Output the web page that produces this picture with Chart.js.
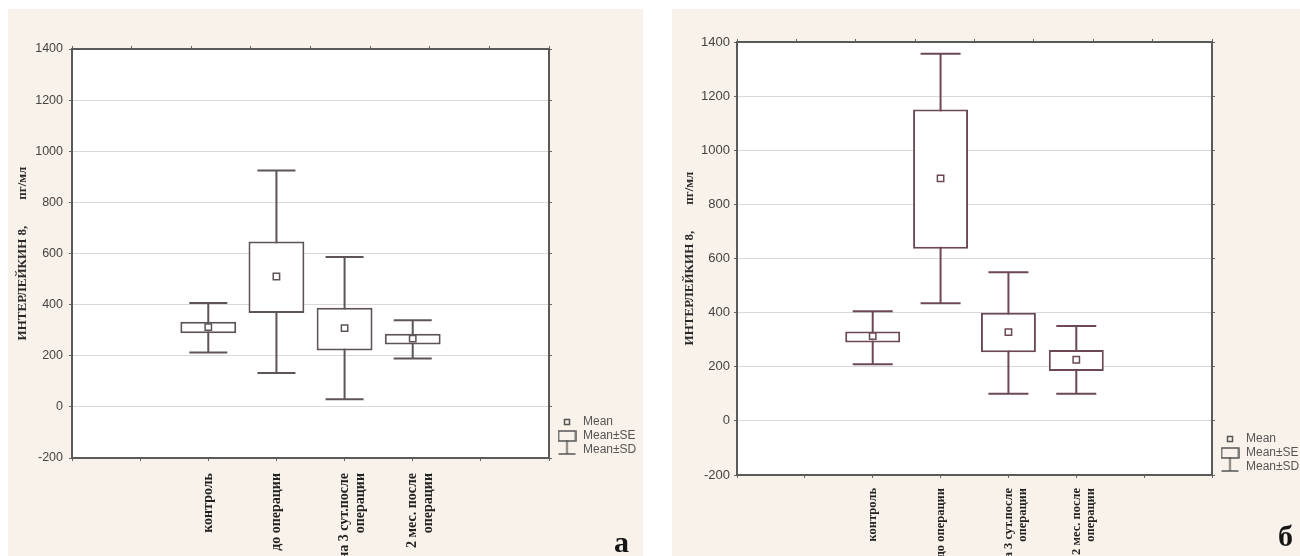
<!DOCTYPE html>
<html>
<head>
<meta charset="utf-8">
<script src="https://cdn.jsdelivr.net/npm/chart.js@4"></script>
<style>
  body { margin: 0; width: 1300px; height: 556px; background: #fff; position: relative; overflow: hidden; }
  .panel { position: absolute; top: 9px; height: 547px; background: #f9f2ea; }
  #panelA { left: 8px; width: 635px; }
  #panelB { left: 672px; width: 628px; }
  canvas { position: absolute; top: 0; }
  #chartA { left: 0; }
  #chartB { left: 650px; }
  .tag { position: absolute; font: bold 30px 'Liberation Serif', serif; line-height: 30px; color: #151515; }
</style>
</head>
<body>
<div class="panel" id="panelA"></div>
<div class="panel" id="panelB"></div>
<canvas id="chartA" width="650" height="556"></canvas>
<canvas id="chartB" width="650" height="556"></canvas>
<div class="tag" style="left:614px;top:527px">а</div>
<div class="tag" style="left:1278px;top:521px">б</div>
<script>
// categories sit on x = 2..5 of a 0..7 axis, as in the original Statistica plot
const categories = ['контроль', 'до операции', ['на 3 сут.после', 'операции'], ['2 мес. после', 'операции']];
const catX = [2, 3, 4, 5];
const yTitle = 'ИНТЕРЛЕЙКИН 8,        пг/мл';
const legendNames = ['Mean', 'Mean±SE', 'Mean±SD'];

// panel а
const meanA = [312, 510, 308, 267];
const seLowA = [288, 367, 221, 244];
const seHighA = [333, 647, 388, 286];
const sdLowA = [213, 133, 30, 189];
const sdHighA = [406, 925, 586, 339];

// panel б
const meanB = [313, 896, 328, 226];
const seLowB = [290, 636, 254, 184];
const seHighB = [330, 1151, 400, 262];
const sdLowB = [209, 435, 100, 100];
const sdHighB = [405, 1357, 549, 351];

// white plot area on the beige panel
const plotBg = {
  id: 'plotBg',
  beforeDraw(chart) {
    const a = chart.chartArea;
    const ctx = chart.ctx;
    ctx.save();
    ctx.fillStyle = '#fff';
    ctx.fillRect(a.left, a.top, a.right - a.left, a.bottom - a.top);
    ctx.restore();
  },
};

function makeIcon(kind, color) {
  const c = document.createElement('canvas');
  const ctx = c.getContext('2d');
  if (kind === 'mean') {
    c.width = 8; c.height = 8;
    ctx.strokeStyle = color; ctx.lineWidth = 1.5;
    ctx.strokeRect(1.5, 1.5, 5, 5);
  } else if (kind === 'se') {
    c.width = 19; c.height = 12;
    ctx.strokeStyle = color; ctx.lineWidth = 1.5;
    ctx.strokeRect(1, 1, 17, 10);
  } else {
    c.width = 19; c.height = 20;
    ctx.strokeStyle = color; ctx.lineWidth = 1.5;
    ctx.beginPath();
    ctx.moveTo(9.5, 0); ctx.lineTo(9.5, 14);
    ctx.moveTo(1, 14); ctx.lineTo(18, 14);
    ctx.stroke();
  }
  return c;
}

function buildChart(id, p) {
  const col = p.color;
  const pts = (arr) => catX.map((x, i) => ({x: x, y: arr[i]}));
  const ranges = (lo, hi) => catX.map((x, i) => ({x: x, y: [lo[i], hi[i]]}));
  const icons = [makeIcon('mean', '#555'), makeIcon('se', '#555'), makeIcon('sd', '#555')];
  const border = {display: true, color: '#5a5a5a', width: 2};

  return new Chart(document.getElementById(id), {
    type: 'bar',
    data: {
      datasets: [
        {
          label: 'Mean±SD',
          data: ranges(p.sdLow, p.sdHigh),
          backgroundColor: col,
          borderWidth: 0,
          grouped: false,
          categoryPercentage: 1,
          barPercentage: 0.1,
          maxBarThickness: 2,
          order: 4,
        },
        {
          label: 'Mean±SE',
          data: ranges(p.seLow, p.seHigh),
          backgroundColor: '#fff',
          borderColor: col,
          borderWidth: 2,
          borderSkipped: false,
          grouped: false,
          categoryPercentage: 1,
          barPercentage: p.boxPct,
          order: 3,
        },
        {
          type: 'scatter',
          label: 'caps',
          data: pts(p.sdHigh).concat(pts(p.sdLow)),
          pointStyle: 'line',
          pointRadius: p.capR,
          pointBorderColor: col,
          pointBorderWidth: 2,
          order: 2,
        },
        {
          type: 'scatter',
          label: 'Mean',
          data: pts(p.mean),
          pointStyle: 'rect',
          pointRadius: 4.5,
          pointBackgroundColor: '#fff',
          pointBorderColor: col,
          pointBorderWidth: 1.5,
          order: 1,
        },
      ],
    },
    options: {
      responsive: false,
      animation: false,
      events: [],
      layout: {padding: {top: p.top, right: p.padRight, bottom: 0, left: 0}},
      plugins: {
        tooltip: {enabled: false},
        legend: {
          position: 'right',
          align: 'end',
          fullSize: false,
          maxWidth: p.legendW,
          labels: {
            usePointStyle: true,
            pointStyleWidth: 20,
            padding: 2,
            color: '#555',
            font: {family: 'Liberation Sans', size: 12},
            generateLabels: () => legendNames.map((t, i) => ({
              text: t,
              pointStyle: icons[i],
              fillStyle: 'rgba(0,0,0,0)',
              strokeStyle: 'rgba(0,0,0,0)',
              lineWidth: 0,
              fontColor: '#555',
              hidden: false,
            })),
          },
        },
      },
      scales: {
        x: {
          type: 'linear',
          min: 0,
          max: 7,
          offset: false,
          border: border,
          grid: {drawOnChartArea: false, offset: false, tickLength: 3, color: '#666'},
          ticks: {
            stepSize: 1,
            autoSkip: false,
            minRotation: 90,
            maxRotation: 90,
            padding: p.xPad,
            color: '#222',
            font: {family: 'Liberation Serif', weight: 'bold', size: p.xFont, lineHeight: p.xLine},
            callback: function(value) {
              const i = catX.indexOf(value);
              return i < 0 ? '' : categories[i];
            },
          },
          afterFit: (s) => { s.height = p.xH; },
        },
        x2: {
          type: 'linear',
          position: 'top',
          min: 0,
          max: 7,
          border: border,
          grid: {drawOnChartArea: false, tickLength: 3, color: '#666'},
          ticks: {display: false, stepSize: 1},
          afterFit: (s) => { s.height = 0; },
        },
        y: {
          type: 'linear',
          min: -200,
          max: 1400,
          border: border,
          grid: {color: '#d9d9d9', tickColor: '#666', tickLength: 3},
          ticks: {
            stepSize: 200,
            padding: p.yPad,
            color: '#444',
            font: {family: 'Liberation Sans', size: p.yFont},
            callback: (v) => String(v),
          },
          title: {
            display: true,
            text: yTitle,
            color: '#2a2a2a',
            padding: {top: p.titlePad, bottom: 0},
            font: {family: 'Liberation Serif', weight: 'bold', size: 13},
          },
          afterFit: (s) => { s.width = p.yW; },
        },
        y2: {
          type: 'linear',
          position: 'right',
          min: -200,
          max: 1400,
          border: border,
          grid: {drawOnChartArea: false, tickLength: 3, color: '#666'},
          ticks: {display: false, stepSize: 200},
          afterFit: (s) => { s.width = 6; },
        },
      },
    },
    plugins: [plotBg],
  });
}

buildChart('chartA', {
  mean: meanA, seLow: seLowA, seHigh: seHighA, sdLow: sdLowA, sdHigh: sdHighA,
  color: '#5e5458',
  top: 49, padRight: 10, legendW: 85, yW: 72, xH: 98,
  xPad: 12, xFont: 14, xLine: 1.15, yPad: 6, yFont: 12.5, titlePad: 15,
  capR: 19, boxPct: 0.82,
});

buildChart('chartB', {
  mean: meanB, seLow: seLowB, seHigh: seHighB, sdLow: sdLowB, sdHigh: sdHighB,
  color: '#6c4852',
  top: 42, padRight: 0, legendW: 82, yW: 87, xH: 81,
  xPad: 10, xFont: 12.5, xLine: 1.12, yPad: 4, yFont: 13, titlePad: 32,
  capR: 20, boxPct: 0.81,
});
</script>
</body>
</html>
